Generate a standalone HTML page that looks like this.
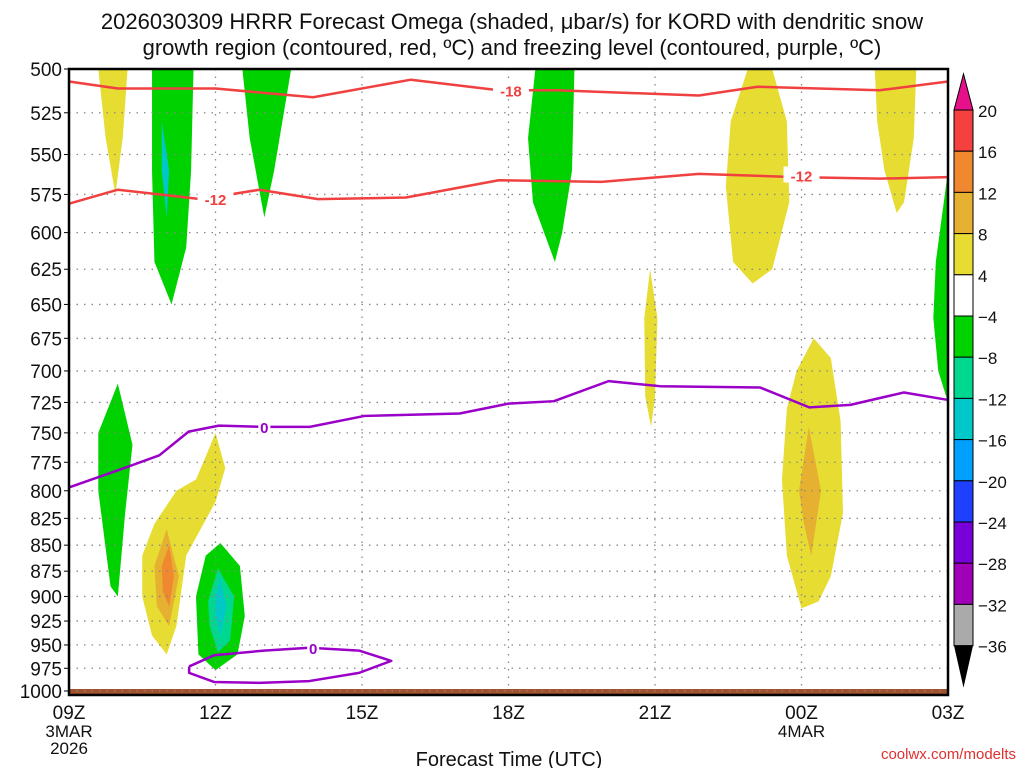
<!DOCTYPE html>
<html><head><meta charset="utf-8"><style>
html,body{margin:0;padding:0;background:#fff;}
svg{display:block;font-family:"Liberation Sans",sans-serif;}
</style></head><body>
<svg id="chart" width="1024" height="768" viewBox="0 0 1024 768">
<text x="512" y="29" text-anchor="middle" font-size="22" fill="#111">2026030309 HRRR Forecast Omega (shaded, μbar/s) for KORD with dendritic snow</text>
<text x="512" y="55" text-anchor="middle" font-size="22" fill="#111">growth region (contoured, red, ºC) and freezing level (contoured, purple, ºC)</text>
<g id="plot"></g>
<text x="509" y="766" text-anchor="middle" font-size="20" fill="#111">Forecast Time (UTC)</text>
<text x="1016" y="759" text-anchor="end" font-size="15" fill="#e03030">coolwx.com/modelts</text>
</svg>
<script>
const pLevels=[500,525,550,575,600,625,650,675,700,725,750,775,800,825,850,875,900,925,950,975,1000];
const tTicks=[0,3,6,9,12,15,18];
const tLabels=["09Z","12Z","15Z","18Z","21Z","00Z","03Z"];
const cbLevels=[20,16,12,8,4,-4,-8,-12,-16,-20,-24,-28,-32,-36];
const cbColors=["#f54040","#f08830","#e6b030","#e6dc32","#ffffff","#00d200","#00d890","#00c8c8","#00a0ff","#2040ff","#7800d8","#a000b8","#aaaaaa"];
const blobs=[
 {c:"#e6dc32",pts:[[0.6,500],[1.2,500],[1.1,540],[0.95,575],[0.75,540]]},
 {c:"#00d200",pts:[[1.7,500],[2.55,500],[2.5,560],[2.4,610],[2.1,650],[1.75,620],[1.7,560]]},
 {c:"#00c8c8",pts:[[1.9,530],[2.05,560],[2.0,590],[1.9,560]]},
 {c:"#00d200",pts:[[3.55,500],[4.55,500],[4.2,560],[4.0,590],[3.7,540]]},
 {c:"#00d200",pts:[[9.55,500],[10.35,500],[10.3,560],[10.1,600],[9.95,620],[9.5,580],[9.4,540]]},
 {c:"#e6dc32",pts:[[13.9,500],[14.4,500],[14.7,530],[14.75,580],[14.4,625],[14.0,635],[13.6,620],[13.45,570],[13.55,530]]},
 {c:"#e6dc32",pts:[[16.5,500],[17.35,500],[17.3,540],[17.1,580],[16.95,587],[16.7,560],[16.55,530]]},
 {c:"#00d200",pts:[[18,560],[18,725],[17.8,700],[17.7,660],[17.75,620]]},
 {c:"#e6dc32",pts:[[11.9,625],[12.05,660],[12.0,720],[11.92,745],[11.8,720],[11.78,660]]},
 {c:"#00d200",pts:[[0.6,750],[1.0,710],[1.3,760],[1.15,820],[1.0,900],[0.85,890],[0.6,800]]},
 {c:"#e6dc32",pts:[[1.5,860],[1.75,830],[2.2,800],[2.6,790],[2.8,770],[3.0,750],[3.2,780],[3.0,810],[2.4,860],[2.2,930],[2.0,960],[1.7,940],[1.5,900]]},
 {c:"#e6b030",pts:[[1.75,870],[2.0,835],[2.25,880],[2.05,930],[1.8,910]]},
 {c:"#f08830",pts:[[1.9,870],[2.05,850],[2.15,880],[2.05,910],[1.92,895]]},
 {c:"#00d200",pts:[[2.6,900],[2.8,860],[3.1,848],[3.5,870],[3.6,920],[3.45,960],[3.0,977],[2.65,960]]},
 {c:"#00d890",pts:[[2.85,905],[3.05,872],[3.38,900],[3.3,945],[3.05,958],[2.88,930]]},
 {c:"#00c8c8",pts:[[3.0,900],[3.1,882],[3.22,910],[3.1,940],[3.0,918]]},
 {c:"#e6dc32",pts:[[14.9,700],[15.25,675],[15.6,690],[15.8,740],[15.85,820],[15.6,880],[15.35,905],[15.0,912],[14.7,860],[14.6,790],[14.7,730]]},
 {c:"#e6b030",pts:[[14.95,800],[15.15,745],[15.4,800],[15.2,860],[15.05,830]]}
];
const redT=[0,1,3,5,7,8.8,10,12.9,14.1,16.6,18];
const redP18=[507,511,511,516,506,512,512,515,510,512,507];
const redT2=[0,1,2.7,3.9,5.1,6.9,8.8,10.9,12.9,14.9,16.6,18];
const redP12=[581,572,578,572,578,577,566,567,562,564,565,564];
const fzT=[0,1,1.85,2.45,3.07,4,4.93,6.05,8,9,9.93,11.05,12.1,14.15,15.16,16,17.1,18];
const fzP=[797,782,769,749,744,745,745,736,734,726,724,708,712,713,729,727,717,723];
const loopT=[2.46,2.97,3.99,4.92,5.94,6.6,5.94,4.92,3.89,2.97,2.46,2.46];
const loopP=[973,961,956,953,956,967,980,989,991,990,980,973];
const X0=69,X1=948,Y0=69,Y1=691;
function xs(t){return X0+(X1-X0)*t/18;}
function ys(p){return Y0+(Y1-Y0)*Math.log(p/500)/Math.log(2);}
const NS="http://www.w3.org/2000/svg";
const g=document.getElementById('plot');
function mk(tag,attrs,parent){const e=document.createElementNS(NS,tag);for(const k in attrs)e.setAttribute(k,attrs[k]);(parent||g).appendChild(e);return e;}
blobs.forEach((b,i)=>{
 const e=mk('polygon',{points:b.pts.map(q=>xs(q[0])+','+ys(q[1])).join(' '),fill:b.c});
 
 
});
const gb=mk('rect',{x:X0,y:ys(1000)-2,width:X1-X0,height:6,fill:"#a0522d"});


pLevels.forEach(p=>{
 const l=mk('line',{x1:X0,x2:X1,y1:ys(p),y2:ys(p),stroke:"#888","stroke-dasharray":"1.5,6","stroke-width":1.3});
 
 
 const t=mk('text',{x:X0-7,y:ys(p)+7,"text-anchor":"end","font-size":19,fill:"#111"});
 t.textContent=p;
 
 
 const tk=mk('line',{x1:X0-5,x2:X0,y1:ys(p),y2:ys(p),stroke:"#000"});
 
 
});
tTicks.forEach((h,i)=>{
 if(i>0&&i<tTicks.length-1){
  const l=mk('line',{x1:xs(h),x2:xs(h),y1:Y0,y2:Y1,stroke:"#888","stroke-dasharray":"1.5,6","stroke-width":1.3});
  
  
 }
 const t=mk('text',{x:xs(h),y:719,"text-anchor":"middle","font-size":19,fill:"#111"});
 t.textContent=tLabels[i];
 
 
});
function line(T,P,col,name){
 const e=mk('polyline',{points:T.map((t,i)=>xs(t)+','+ys(P[i])).join(' '),fill:"none",stroke:col,"stroke-width":2.5,"stroke-linejoin":"round"});
 
 
}
line(redT,redP18,"#f04040","contour-minus-18");
line(redT2,redP12,"#f04040","contour-minus-12");
line(fzT,fzP,"#9a00c8","freezing-level-0");
line(loopT,loopP,"#9a00c8","freezing-loop-0");
function lab(t,p,s,col){
 const bg=mk('rect',{x:xs(t)-s.length*6,y:ys(p)-9,width:s.length*12,height:16,fill:"#fff"});
 
 
 const e=mk('text',{x:xs(t),y:ys(p)+6,"text-anchor":"middle","font-size":15,"font-weight":"bold",fill:col});
 e.textContent=s;
 
 
}
lab(9.05,512,"-18","#f04040");
lab(3.0,578,"-12","#f04040");
lab(15.0,563,"-12","#f04040");
lab(4.0,745,"0","#9a00c8");
lab(5.0,953,"0","#9a00c8");
const fr=mk('rect',{x:X0,y:Y0,width:X1-X0,height:Y1+4-Y0,fill:"none",stroke:"#000","stroke-width":2.5});


const d1=mk('text',{x:X0,y:737,"text-anchor":"middle","font-size":17,fill:"#111"});d1.textContent="3MAR";


const d2=mk('text',{x:X0,y:754,"text-anchor":"middle","font-size":17,fill:"#111"});d2.textContent="2026";


const d3=mk('text',{x:xs(15),y:737,"text-anchor":"middle","font-size":17,fill:"#111"});d3.textContent="4MAR";


const CX=954,CW=19,CT=110,CH=41.2;
const cbTop=mk('polygon',{points:`${CX},${CT} ${CX+CW},${CT} ${CX+CW/2},${CT-36}`,fill:"#e8108a",stroke:"#000"});


cbColors.forEach((c,i)=>{
 const r=mk('rect',{x:CX,y:CT+i*CH,width:CW,height:CH,fill:c,stroke:"#000","stroke-width":1});
 
 
});
const cbBot=mk('polygon',{points:`${CX},${CT+cbColors.length*CH} ${CX+CW},${CT+cbColors.length*CH} ${CX+CW/2},${CT+cbColors.length*CH+42}`,fill:"#000"});


cbLevels.forEach((v,i)=>{
 const t=mk('text',{x:978,y:CT+i*CH+7,"font-size":17,fill:"#111"});
 t.textContent=v<0?"\u2212"+(-v):String(v);
 
 
});
</script>
</body></html>
